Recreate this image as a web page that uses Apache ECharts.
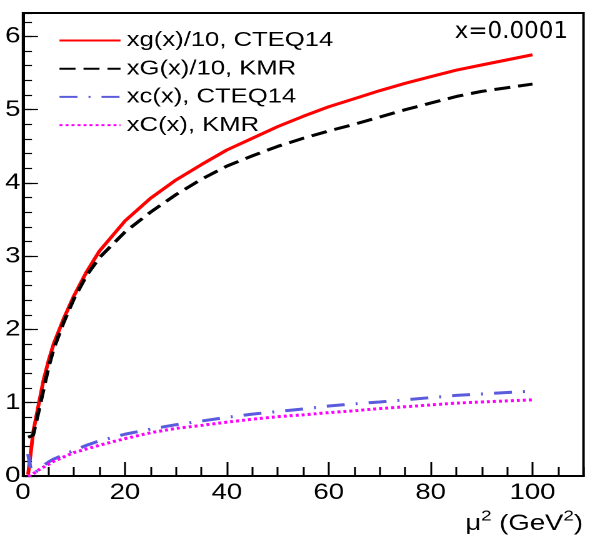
<!DOCTYPE html>
<html>
<head>
<meta charset="utf-8">
<script src="https://cdn.jsdelivr.net/npm/echarts@6/dist/echarts.min.js"></script>
<style>
html,body{margin:0;padding:0;background:#fff}
#wrap{width:592px;height:546px;overflow:hidden;position:relative}
#c{width:473.6px;height:546px;transform:scaleX(1.25);transform-origin:0 0}
</style>
</head>
<body>
<div id="wrap"><div id="c"></div></div>
<script>
const mu2 = [1, 1.5, 2, 3, 4, 5, 6, 8, 10, 12.5, 15, 20, 25, 30, 35, 40, 45, 50, 55, 60, 65, 70, 75, 80, 85, 90, 95, 100];
const gCTEQ = [0.02, 0.3, 0.6, 0.95, 1.3, 1.57, 1.8, 2.15, 2.46, 2.79, 3.07, 3.48, 3.79, 4.04, 4.25, 4.45, 4.61, 4.77, 4.91, 5.04, 5.15, 5.26, 5.36, 5.45, 5.54, 5.61, 5.68, 5.75];
const gKMR = [0.53, 0.54, 0.56, 0.86, 1.17, 1.48, 1.73, 2.1, 2.42, 2.74, 2.98, 3.33, 3.6, 3.84, 4.05, 4.23, 4.37, 4.5, 4.61, 4.71, 4.8, 4.9, 5.0, 5.09, 5.18, 5.25, 5.3, 5.35];
const cCTEQ = [0.3, 0.1, 0.03, 0.08, 0.14, 0.19, 0.23, 0.29, 0.35, 0.42, 0.48, 0.57, 0.64, 0.7, 0.75, 0.8, 0.845, 0.88, 0.915, 0.955, 0.985, 1.01, 1.04, 1.07, 1.1, 1.12, 1.14, 1.16];
const cKMR = [0.0, 0.01, 0.03, 0.08, 0.12, 0.16, 0.2, 0.26, 0.32, 0.37, 0.42, 0.51, 0.59, 0.65, 0.69, 0.735, 0.775, 0.81, 0.835, 0.865, 0.89, 0.92, 0.945, 0.97, 0.995, 1.01, 1.025, 1.04];
const names = ['xg(x)/10, CTEQ14', 'xG(x)/10, KMR', 'xc(x), CTEQ14', 'xC(x), KMR'];
const xTicks = [0, 20, 40, 60, 80, 100];
const yTicks = [0, 1, 2, 3, 4, 5, 6];

const S = 1.25; // horizontal stretch of the whole picture
const pairs = v => mu2.map((m, i) => [m, v[i]]);
const FONT = 'Liberation Sans';
const chart = echarts.init(document.getElementById('c'), null, {renderer: 'canvas', devicePixelRatio: 2});
const baseAxisX = {
  type: 'value', min: 0, max: 110, position: 'bottom',
  axisLine: {show: true, lineStyle: {color: '#000', width: 2}},
  splitLine: {show: false}
};
const baseAxisY = {
  type: 'value', min: 0, max: 6.32, position: 'left',
  axisLine: {show: true, lineStyle: {color: '#000', width: 2}},
  splitLine: {show: false}
};
const common = {showSymbol: false, symbol: 'none'};
chart.setOption({
  animation: false,
  grid: {left: 23 / S, top: 13, right: 9 / S, bottom: 70, show: true, borderColor: '#000', borderWidth: 2, backgroundColor: 'transparent'},
  xAxis: [
    Object.assign({}, baseAxisX, {
      interval: 20,
      axisTick: {show: true, inside: true, length: 14, lineStyle: {color: '#000', width: 1.5}},
      axisLabel: {show: true, margin: 6, color: '#000', fontFamily: FONT, fontSize: 22, showMaxLabel: false,
        formatter: v => xTicks.includes(v) ? String(v) : ''}
    }),
    Object.assign({}, baseAxisX, {
      interval: 5,
      axisTick: {show: true, inside: true, length: 9, lineStyle: {color: '#000', width: 1.5}},
      axisLabel: {show: false}
    })
  ],
  yAxis: [
    Object.assign({}, baseAxisY, {
      interval: 1,
      axisTick: {show: true, inside: true, length: 15 / S, lineStyle: {color: '#000', width: 1.2}},
      axisLabel: {show: true, margin: 2, color: '#000', fontFamily: FONT, fontSize: 22, showMaxLabel: false,
        formatter: v => yTicks.includes(v) ? String(v) : ''}
    }),
    Object.assign({}, baseAxisY, {
      interval: 0.2,
      axisTick: {show: true, inside: true, length: 9 / S, lineStyle: {color: '#000', width: 1.2}},
      axisLabel: {show: false}
    })
  ],
  legend: {
    orient: 'vertical', left: 52 / S, top: 25, itemWidth: 61 / S, itemHeight: 14, itemGap: 7.2,
    itemStyle: {opacity: 0},
    textStyle: {fontFamily: FONT, fontSize: 20.5, color: '#000', lineHeight: 20, padding: [0, 0, 0, 0]},
    data: names
  },
  series: [
    Object.assign({name: names[0], type: 'line', data: pairs(gCTEQ),
      lineStyle: {color: '#ff0000', width: 3, type: 'solid'}, itemStyle: {color: '#ff0000'}}, common),
    Object.assign({name: names[1], type: 'line', data: pairs(gKMR),
      lineStyle: {color: '#000000', width: 3, type: [16 / S, 8 / S]}, itemStyle: {color: '#000'}}, common),
    Object.assign({name: names[2], type: 'line', data: pairs(cCTEQ),
      lineStyle: {color: '#5b5bdd', width: 3, type: [18 / S, 11 / S, 2 / S, 11 / S]}, itemStyle: {color: '#5b5bdd'}}, common),
    Object.assign({name: names[3], type: 'line', data: pairs(cKMR),
      lineStyle: {color: '#ff00ff', width: 3, type: [3 / S, 3 / S]}, itemStyle: {color: '#ff00ff'}}, common)
  ],
  graphic: [
    {type: 'text', x: 568 / S, y: 32, scaleX: 1 / S, style: {text: 'x=0.0001', align: 'right', verticalAlign: 'middle',
      fontFamily: 'DejaVu Sans', fontSize: 23, fill: '#000'}},
    {type: 'text', x: 583 / S, y: 522, style: {
      text: '{a|μ}{s|2}{a| (GeV}{s|2}{a|)}', align: 'right', verticalAlign: 'middle',
      rich: {
        a: {fontFamily: FONT, fontSize: 22, fill: '#000', verticalAlign: 'bottom', lineHeight: 26},
        s: {fontFamily: FONT, fontSize: 15, fill: '#000', verticalAlign: 'top', lineHeight: 26}
      }
    }}
  ]
});
</script>
</body>
</html>
